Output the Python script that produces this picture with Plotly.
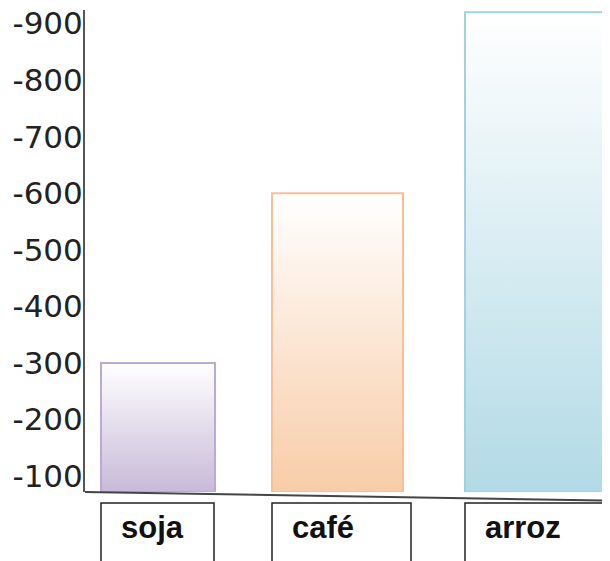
import plotly.graph_objects as go

# data
categories = ["soja", "café", "arroz"]
values = [300, 600, 920]
tick_values = [100, 200, 300, 400, 500, 600, 700, 800, 900]
tick_labels = ["-100", "-200", "-300", "-400", "-500", "-600", "-700", "-800", "-900"]

# layout / style
bar_centers = [73, 252.5, 450]
bar_widths = [114, 131, 140]
box_lefts = [16, 187, 380]
box_widths = [113, 139, 138]
bottom_colors = ["rgb(200,186,216)", "rgb(248,204,168)", "rgb(178,218,230)"]
border_colors = ["rgb(188,170,212)", "rgb(248,192,150)", "rgb(162,210,224)"]
y_min, y_max = 72, 924

fig = go.Figure()
for cat, v, c, w, bc, lc in zip(categories, values, bar_centers, bar_widths, bottom_colors, border_colors):
    x0, x1 = c - w / 2, c + w / 2
    fig.add_trace(go.Scatter(
        x=[x0, x1, x1, x0, x0],
        y=[y_min, y_min, v, v, y_min],
        mode="lines",
        fill="toself",
        fillgradient=dict(type="vertical", colorscale=[[0, bc], [1, "white"]], start=y_min, stop=v),
        line=dict(color=lc, width=2),
        hoverinfo="skip",
        showlegend=False,
        name=cat,
    ))

shapes = []
annotations = []
for cat, bl, bw in zip(categories, box_lefts, box_widths):
    shapes.append(dict(type="rect", xref="x", yref="paper", x0=bl, x1=bl + bw,
                       y0=-0.023, y1=-0.2, line=dict(color="#222", width=1.5),
                       fillcolor="white", layer="above"))
    annotations.append(dict(x=bl, xref="x", y=-0.073, yref="paper", xanchor="left", yanchor="middle",
                            xshift=18, text=cat, showarrow=False,
                            font=dict(family="Liberation Sans", size=31, color="#111", weight="bold")))

# slanted baseline
shapes.append(dict(type="line", xref="paper", yref="paper", x0=0, y0=0, x1=1, y1=-0.018,
                   line=dict(color="#444", width=2), layer="above"))

# page body has an 8px margin: figure is sized/offset to compensate
fig.update_layout(
    width=602, height=553,
    margin=dict(l=77, r=0, t=2, b=69, autoexpand=False),
    paper_bgcolor="white", plot_bgcolor="white",
    xaxis=dict(range=[0, 525], showgrid=False, zeroline=False, showticklabels=False, showline=False,
               automargin=False),
    yaxis=dict(range=[y_min, y_max], tickvals=tick_values, ticktext=tick_labels, automargin=False,
               showgrid=False, zeroline=False, showline=True, linecolor="#555", linewidth=2,
               ticks="", ticklen=0, tickfont=dict(family="DejaVu Sans", size=31, color="#222"),
               ticklabelstandoff=-6, ticklabeloverflow="allow"),
    shapes=shapes,
    annotations=annotations,
)

fig.write_html("out.html")
